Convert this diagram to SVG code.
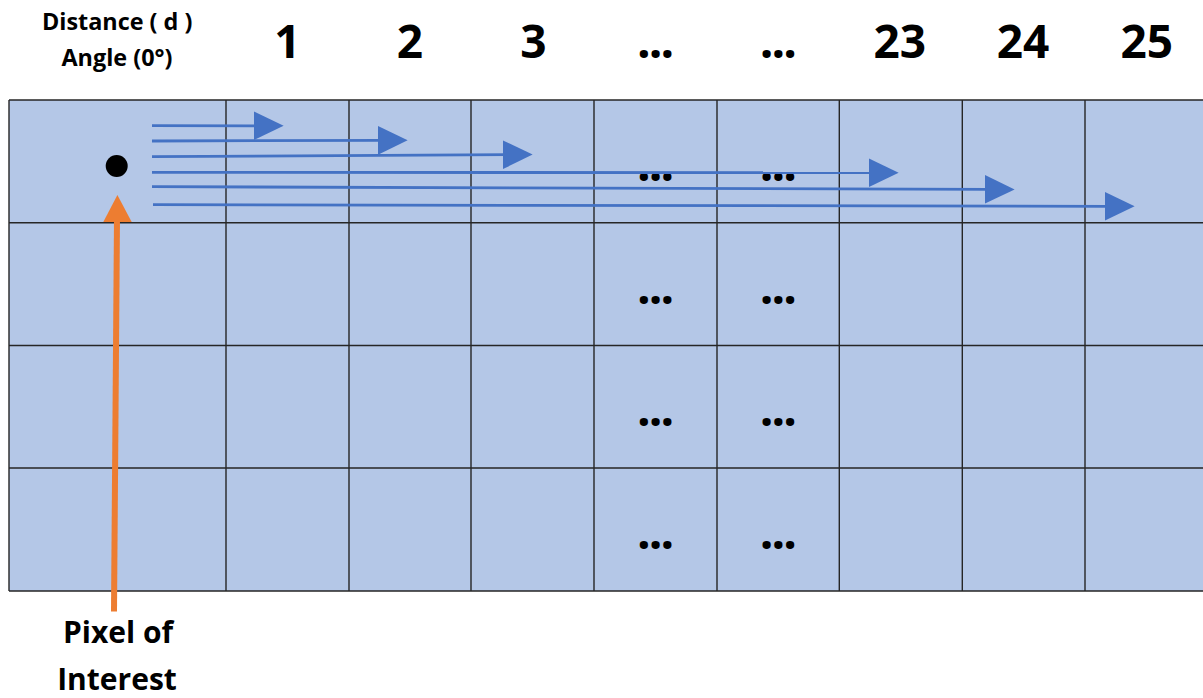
<svg xmlns="http://www.w3.org/2000/svg" width="1203" height="698" viewBox="0 0 1203 698">
  <style>
    .hdr { font-family: "Open Sans", Lato, sans-serif; font-weight: bold; fill: #000; text-anchor: middle; }
    .lbl { font-size: 23.4px; }
    .num { font-size: 46px; }
    .big { font-size: 30px; }
    .dots { font-family: "Open Sans", Lato, sans-serif; font-weight: bold; font-size: 48px; fill: #000; text-anchor: middle; letter-spacing: -1.9px; }
    .grid { stroke: #262626; stroke-width: 1.4; fill: none; }
    .blue { stroke: #4472C4; stroke-width: 2.8; fill: none; }
  </style>
  <defs>
    <marker id="bh" markerUnits="userSpaceOnUse" markerWidth="30" markerHeight="30" viewBox="0 0 28 27" refX="5" refY="13.5" orient="auto">
      <path d="M0,0 L28,13.5 L0,27 Z" fill="#4472C4"/>
    </marker>
  </defs>

  <rect width="1203" height="698" fill="#ffffff"/>

  <g id="header">
    <text class="hdr lbl" x="117.2" y="30">Distance ( d )</text>
    <text class="hdr lbl" x="117" y="65.5">Angle (0°)</text>
    <text class="hdr num" x="287.4" y="57.5">1</text>
    <text class="hdr num" x="409.8" y="57.5">2</text>
    <text class="hdr num" x="533.3" y="57.5">3</text>
    <text class="dots" x="654.6" y="58.2">...</text>
    <text class="dots" x="777.4" y="58.2">...</text>
    <text class="hdr num" x="899.7" y="57.5">23</text>
    <text class="hdr num" x="1023" y="57.5">24</text>
    <text class="hdr num" x="1146.7" y="57.5">25</text>
  </g>

  <g id="grid">
    <rect x="9" y="100" width="1200" height="491" fill="#B4C7E7"/>
    <path class="grid" d="M9,100 H1210 M9,222.7 H1210 M9,345.5 H1210 M9,468 H1210 M9,591 H1210 M9,100 V591 M226,100 V591 M349,100 V591 M471,100 V591 M594,100 V591 M717,100 V591 M839.3,100 V591 M962.3,100 V591 M1085,100 V591"/>
  </g>

  <g id="cell-dots">
    <text class="dots" x="654.6" y="181.2">...</text>
    <text class="dots" x="777.4" y="181.2">...</text>
    <text class="dots" x="654.6" y="303.9">...</text>
    <text class="dots" x="777.4" y="303.9">...</text>
    <text class="dots" x="654.6" y="426.4">...</text>
    <text class="dots" x="777.4" y="426.4">...</text>
    <text class="dots" x="654.6" y="548.9">...</text>
    <text class="dots" x="777.4" y="548.9">...</text>
  </g>

  <g id="pixel">
    <circle cx="116.7" cy="166" r="11" fill="#000"/>
  </g>

  <g id="connectors">
    <line class="blue" x1="152" y1="125.7" x2="259" y2="125.8" marker-end="url(#bh)"/>
    <line class="blue" x1="152" y1="141" x2="383" y2="140.3" marker-end="url(#bh)"/>
    <line class="blue" x1="152" y1="156.7" x2="508" y2="154.7" marker-end="url(#bh)"/>
    <line class="blue" x1="152" y1="172.3" x2="874" y2="172.7" marker-end="url(#bh)"/>
    <line class="blue" x1="152" y1="186.7" x2="990" y2="189.3" marker-end="url(#bh)"/>
    <line class="blue" x1="153" y1="204.7" x2="1110" y2="206.3" marker-end="url(#bh)"/>
    <line x1="114" y1="611.5" x2="117" y2="218" stroke="#ED7D31" stroke-width="6"/>
    <polygon points="117.4,195 103.3,222 131.7,222" fill="#ED7D31"/>
  </g>

  <g id="label">
    <text class="hdr big" x="118" y="643">Pixel of</text>
    <text class="hdr big" x="117" y="689.5">Interest</text>
  </g>
</svg>
